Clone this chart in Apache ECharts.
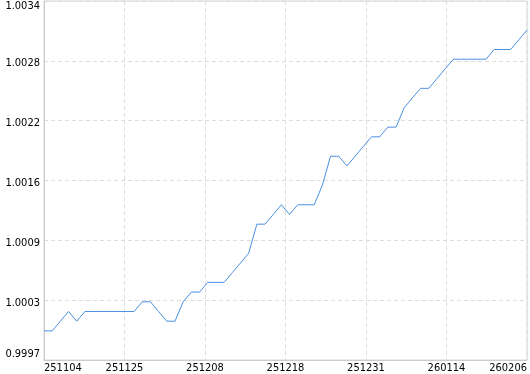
<!DOCTYPE html>
<html>
<head>
<meta charset="utf-8">
<script src="https://cdn.jsdelivr.net/npm/echarts@6/dist/echarts.min.js"></script>
<style>
html,body{margin:0;padding:0;background:#fff;}
#chart{width:530px;height:374px;}
</style>
</head>
<body>
<div id="chart"></div>
<script>
// x-axis tick labels (dates, yymmdd)
var xTickLabels = ['251104','251125','251208','251218','251231','260114','260206'];
// y-axis tick labels
var yTickLabels = ['0.9997','1.0003','1.0009','1.0016','1.0022','1.0028','1.0034'];
var yMin = 0.9997;
var yMax = 1.0034;
// series values (net value, one per point)
var navValues = [
  1.0000, 1.0000, 1.0001, 1.0002, 1.0001, 1.0002, 1.0002, 1.0002, 1.0002, 1.0002,
  1.0002, 1.0002, 1.0003, 1.0003, 1.0002, 1.0001, 1.0001, 1.0003, 1.0004, 1.0004,
  1.0005, 1.0005, 1.0005, 1.0006, 1.0007, 1.0008, 1.0011, 1.0011, 1.0012, 1.0013,
  1.0012, 1.0013, 1.0013, 1.0013, 1.0015, 1.0018, 1.0018, 1.0017, 1.0018, 1.0019,
  1.0020, 1.0020, 1.0021, 1.0021, 1.0023, 1.0024, 1.0025, 1.0025, 1.0026, 1.0027,
  1.0028, 1.0028, 1.0028, 1.0028, 1.0028, 1.0029, 1.0029, 1.0029, 1.0030, 1.0031
];

var nSplit = xTickLabels.length - 1;
var xMax = navValues.length - 1;
var xInterval = xMax / nSplit;
var yRange = yMax - yMin;
var yInterval = yRange / (yTickLabels.length - 1);

var seriesData = navValues.map(function (v, i) { return [i, v - yMin]; });

var chart = echarts.init(document.getElementById('chart'), null, {renderer: 'canvas'});
var font = '"DejaVu Sans Condensed", "DejaVu Sans", sans-serif';
chart.setOption({
  animation: false,
  backgroundColor: '#ffffff',
  grid: {
    left: 44, right: 2, top: 1, bottom: 13,
    show: true, borderColor: '#d4d4d4', borderWidth: 1, backgroundColor: 'transparent'
  },
  xAxis: {
    type: 'value',
    min: 0,
    max: xMax,
    interval: xInterval,
    axisLine: {show: true, lineStyle: {color: '#cccccc', width: 1}},
    axisTick: {show: false},
    splitLine: {show: true, lineStyle: {color: '#dddddd', type: [4, 3], width: 1}},
    axisLabel: {
      margin: 3,
      color: '#000',
      fontSize: 11,
      fontFamily: font,
      alignMinLabel: 'left',
      alignMaxLabel: 'right',
      formatter: function (v) {
        var k = Math.round(v / xInterval);
        return xTickLabels[k] !== undefined ? xTickLabels[k] : '';
      }
    }
  },
  yAxis: {
    type: 'value',
    min: 0,
    max: yRange,
    interval: yInterval,
    axisLine: {show: true, lineStyle: {color: '#cccccc', width: 1}},
    axisTick: {show: false},
    splitLine: {show: true, lineStyle: {color: '#dddddd', type: [4, 3], width: 1}},
    axisLabel: {
      margin: 4,
      color: '#000',
      fontSize: 11,
      fontFamily: font,
      verticalAlignMinLabel: 'bottom',
      verticalAlignMaxLabel: 'top',
      formatter: function (v) {
        var k = Math.round(v / yInterval);
        var t = yTickLabels[k] !== undefined ? yTickLabels[k] : '';
        if (k > 0 && k < yTickLabels.length - 1) return '{m|' + t + '}';
        return t;
      },
      rich: {
        m: {padding: [5, 0, 0, 0], fontSize: 11, fontFamily: font, color: '#000'}
      }
    }
  },
  series: [{
    type: 'line',
    data: seriesData,
    symbol: 'none',
    lineStyle: {color: '#4a90e2', width: 1},
    itemStyle: {color: '#4a90e2'}
  }]
});
</script>
</body>
</html>
